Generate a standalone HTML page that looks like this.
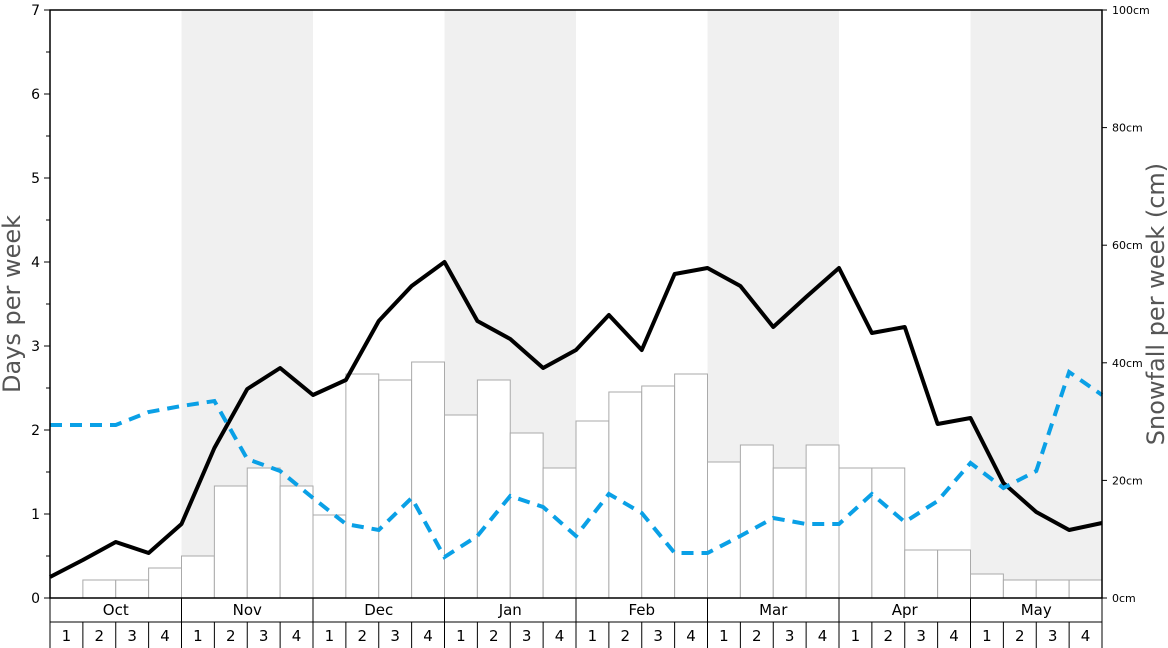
<!DOCTYPE html>
<html><head><meta charset="utf-8"><style>body{margin:0;background:#fff}svg{display:block}</style></head><body>
<svg width="1168" height="648" xmlns="http://www.w3.org/2000/svg" font-family="DejaVu Sans, Liberation Sans, sans-serif">
<rect width="1168" height="648" fill="#fff"/>
<g fill="#f0f0f0">
<rect x="181.5" y="10" width="131.5" height="588"/>
<rect x="444.5" y="10" width="131.5" height="588"/>
<rect x="707.5" y="10" width="131.5" height="588"/>
<rect x="970.5" y="10" width="131.5" height="588"/>
</g>
<g id="bars" fill="#fff" stroke="#aaa" stroke-width="1"></g>
<polyline id="blk" fill="none" stroke="#000" stroke-width="4" stroke-linejoin="round"/>
<polyline id="blu" fill="none" stroke="#0aa0e6" stroke-width="4" stroke-dasharray="12,8"/>
<rect x="50" y="10" width="1052" height="588" fill="none" stroke="#000" stroke-width="1.5"/>
<g id="ax" stroke="#000" stroke-width="1"></g>
<g id="txt" font-size="15" fill="#000"></g>
<text transform="translate(20,304) rotate(-90)" text-anchor="middle" font-size="24" fill="#555">Days per week</text>
<text transform="translate(1164,304) rotate(-90)" text-anchor="middle" font-size="24" fill="#555">Snowfall per week (cm)</text>
</svg>
<script>
const NS="http://www.w3.org/2000/svg";
function el(p,t,a,tx){const e=document.createElementNS(NS,t);for(const k in a)e.setAttribute(k,a[k]);if(tx!=null)e.textContent=tx;p.appendChild(e);return e;}
const w=1052/32;
const tops=[598,580,580,568,556,486,468,486,515,374,380,362,415,380,433,468,421,392,386,374,462,445,468,445,468,468,550,550,574,580,580,580];
const bars=document.getElementById('bars');
tops.forEach((t,i)=>{if(t<598)el(bars,'rect',{x:50+i*w,y:t,width:w,height:598-t});});
const bk=[577,560,542,553,524,448,389,368,395,380,321,286,262,321,339,368,350,315,350,274,268,286,327,297,268,333,327,424,418,483,512,530,523];
const bl=[425,425,425,412,406,401,459,471,498,524,530,498,557,536,496,507,536,494,513,553,553,536,518,524,524,494,522,501,463,488,471,372,395];
document.getElementById('blk').setAttribute('points',bk.map((y,i)=>(50+i*w)+','+y).join(' '));
document.getElementById('blu').setAttribute('points',bl.map((y,i)=>(50+i*w)+','+y).join(' '));
const ax=document.getElementById('ax'),tx=document.getElementById('txt');
for(let v=0;v<=14;v++){const y=598-v*42;el(ax,'line',{x1:v%2?46:44,x2:50,y1:y,y2:y});if(v%2==0)el(tx,'text',{x:40,y:y+5,'text-anchor':'end','font-size':14},v/2);}
for(let c=0;c<=100;c+=20){const y=598-c*5.88;el(ax,'line',{x1:1102,x2:1107,y1:y,y2:y});el(tx,'text',{x:1112,y:y+4,'font-size':11},c+'cm');}
el(ax,'line',{x1:50,x2:1102,y1:622,y2:622});el(ax,'line',{x1:50,x2:50,y1:598,y2:648});el(ax,'line',{x1:1102,x2:1102,y1:598,y2:622});
const m=['Oct','Nov','Dec','Jan','Feb','Mar','Apr','May'];
m.forEach((n,i)=>{const x=50+i*4*w;el(ax,'line',{x1:x,x2:x,y1:598,y2:648});el(tx,'text',{x:x+2*w,y:615,'text-anchor':'middle'},n);
for(let k=0;k<4;k++){const xx=x+k*w;el(ax,'line',{x1:xx,x2:xx,y1:622,y2:648});el(tx,'text',{x:xx+w/2,y:641,'text-anchor':'middle'},k+1);}});
el(ax,'line',{x1:1102,x2:1102,y1:598,y2:648});
</script>
</body></html>
